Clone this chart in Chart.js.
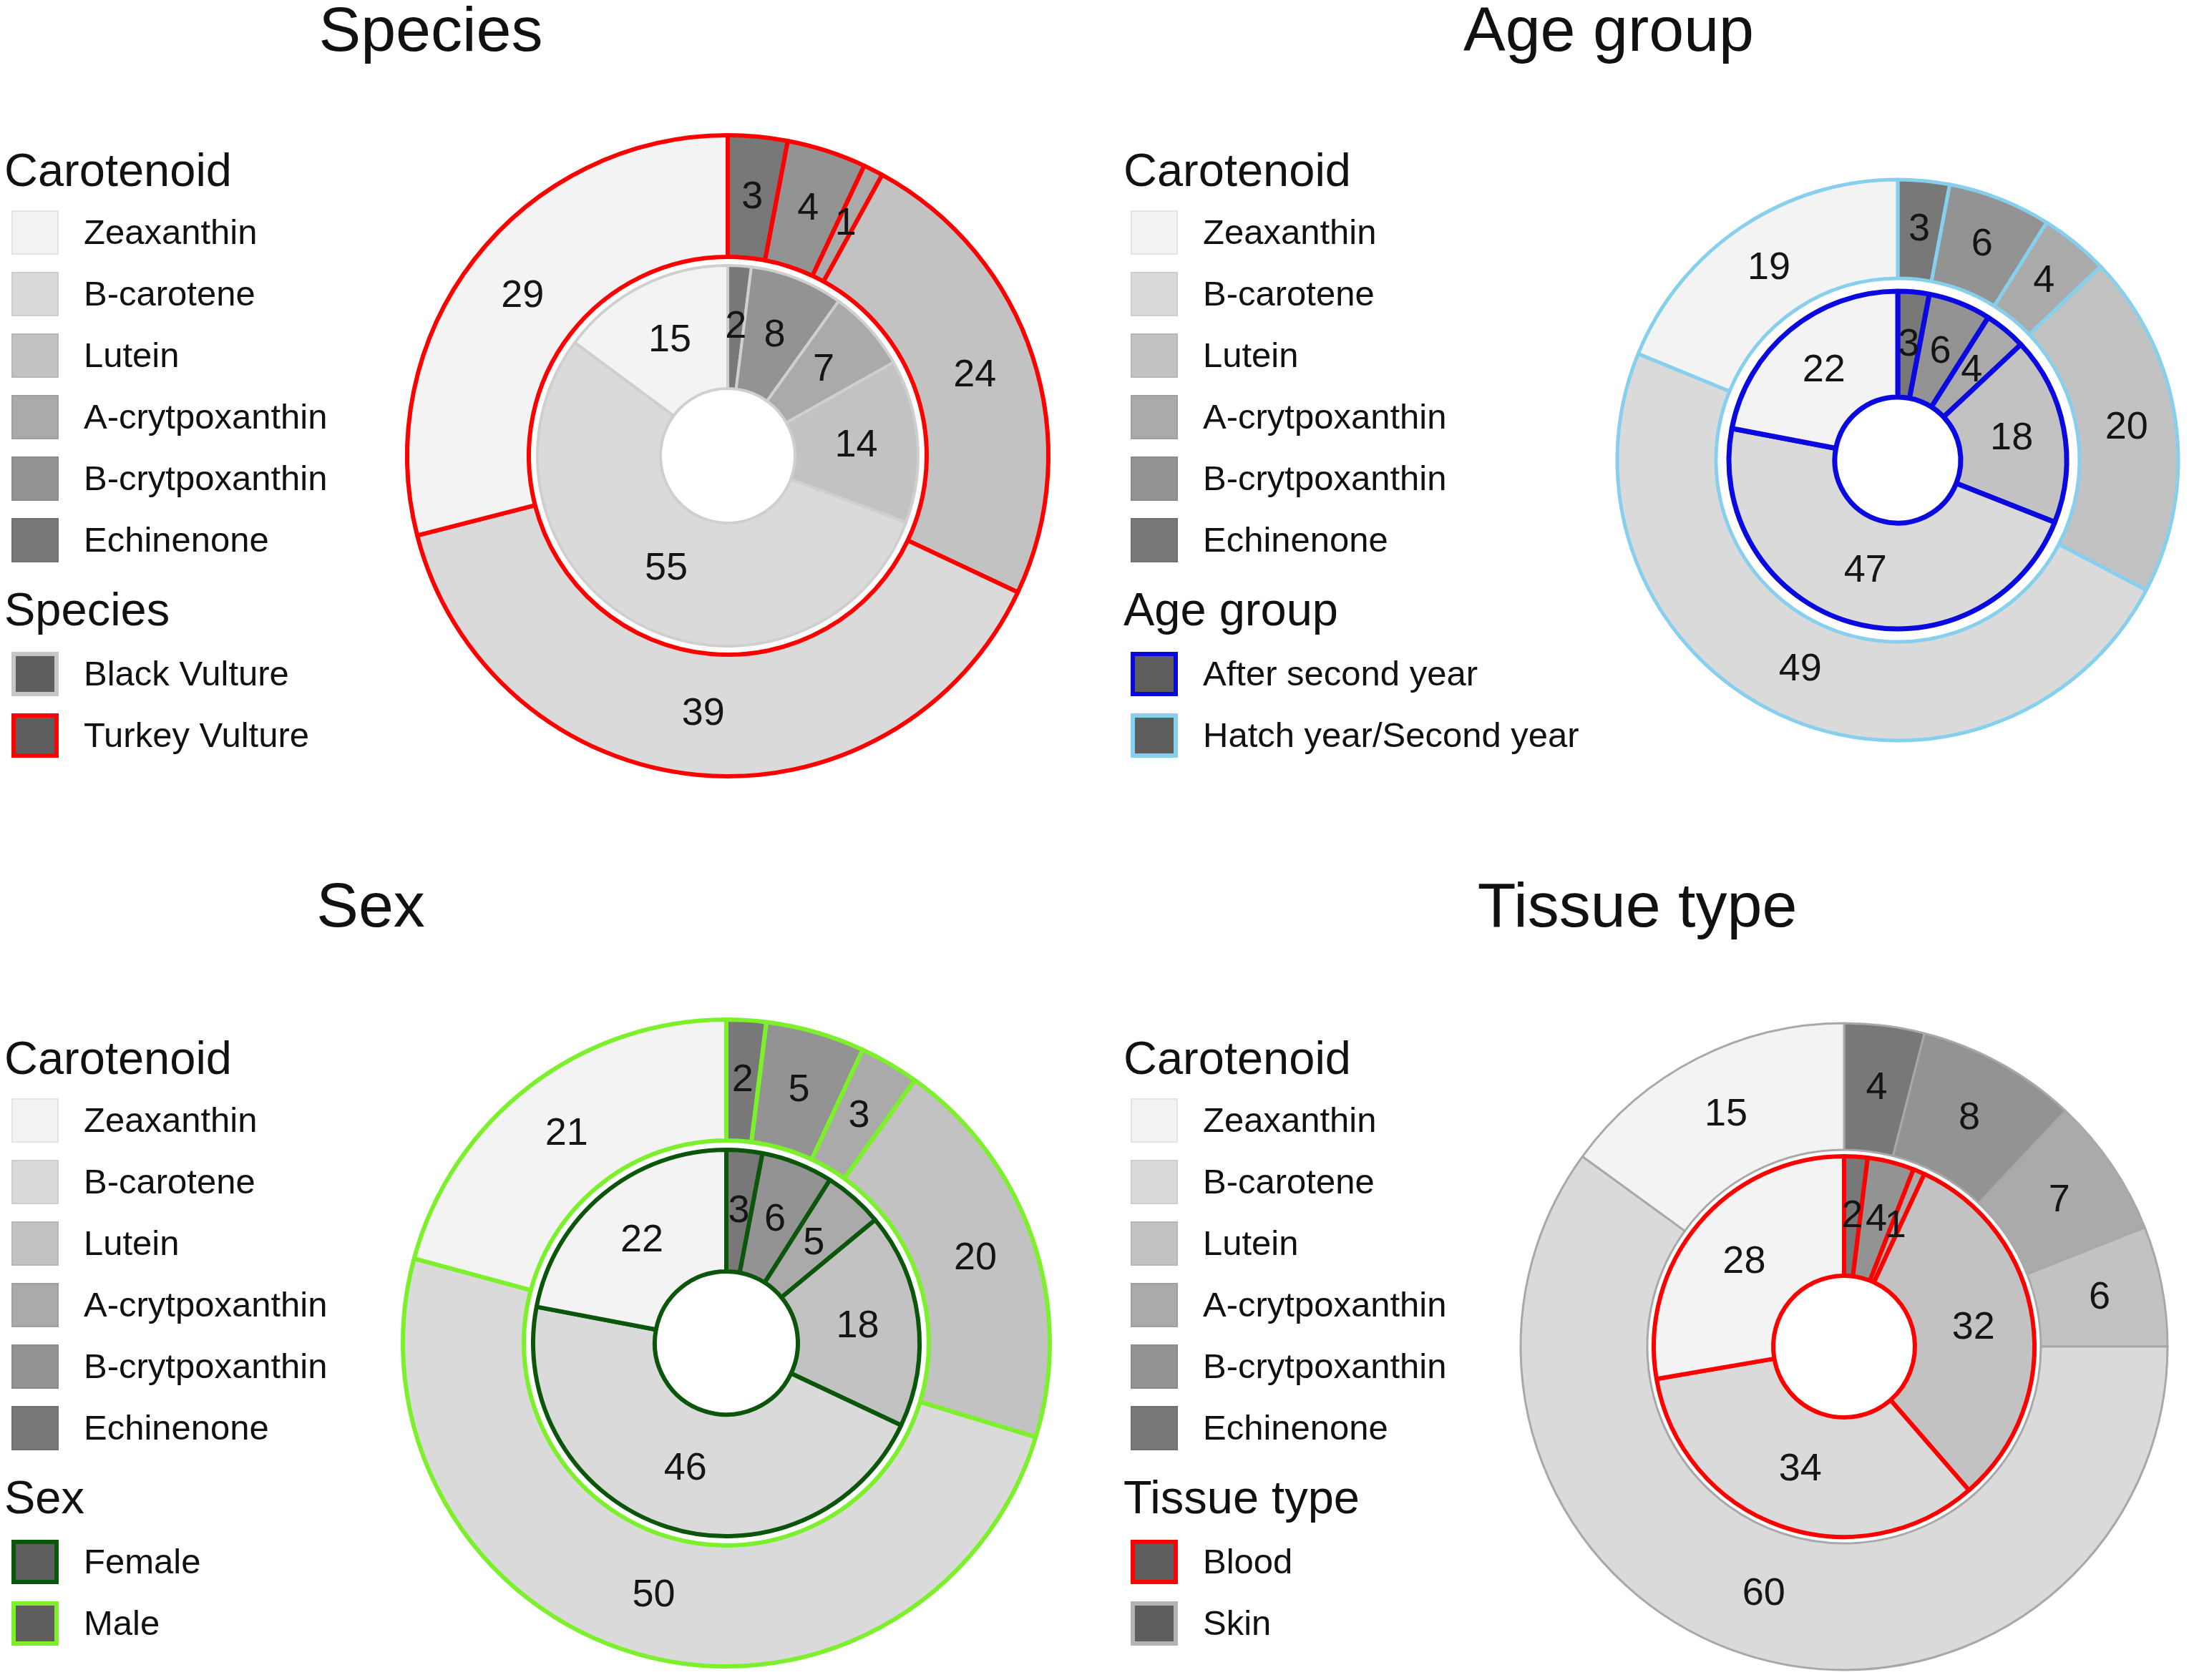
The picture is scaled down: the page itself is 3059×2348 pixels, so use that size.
<!DOCTYPE html>
<html>
<head>
<meta charset="utf-8">
<script src="https://cdn.jsdelivr.net/npm/chart.js@4.4.1/dist/chart.umd.min.js"></script>
<style>
  body { margin: 0; background: #fff; font-family: "Liberation Sans", Arial, sans-serif; color: #111; }
  #page { position: relative; width: 3059px; height: 2348px; overflow: hidden; background: #fff; }
  .abs { position: absolute; white-space: nowrap; line-height: 1; }
  .title { font-size: 88px; transform: translateX(-50%); }
  .head { font-size: 65px; }
  .item { font-size: 49px; }
  .sw { position: absolute; box-sizing: border-box; }
  canvas { position: absolute; }
</style>
</head>
<body>
<div id="page"></div>
<script>
// carotenoids in legend order, slices run clockwise from 12 o'clock in reverse order
const carotenoids = ["Zeaxanthin", "B-carotene", "Lutein", "A-crytpoxanthin", "B-crytpoxanthin", "Echinenone"];
const greys = ["#f3f3f3", "#dadada", "#c2c2c2", "#aaaaaa", "#939393", "#787878"];
const sliceOrder = carotenoids.slice().reverse();
const sliceGreys = greys.slice().reverse();

// values per ring, in slice order: Echinenone, B-cryt, A-cryt, Lutein, B-carotene, Zeaxanthin
const turkeyVulture = [3, 4, 1, 24, 39, 29];
const blackVulture = [2, 8, 7, 14, 55, 15];
const hatchSecondYear = [3, 6, 4, 20, 49, 19];
const afterSecondYear = [3, 6, 4, 18, 47, 22];
const male = [2, 5, 3, 20, 50, 21];
const female = [3, 6, 5, 18, 46, 22];
const skin = [4, 8, 7, 6, 60, 15];
const blood = [2, 4, 1, 32, 34, 28];

const panels = [
  { title: "Species", titleX: 602, ox: 0, oy: 0,
    groups: ["Black Vulture", "Turkey Vulture"], groupBorders: ["#c6c6c6", "#ff0000"],
    outer: turkeyVulture, inner: blackVulture,
    outerBorder: "#ff0000", innerBorder: "#cfcfcf", outerBW: 6, innerBW: 4,
    cx: 1017, cy: 637, R: 448, outerIn: 278, innerOut: 266, hole: 94 },
  { title: "Age group", titleX: 2248, ox: 1564, oy: 0,
    groups: ["After second year", "Hatch year/Second year"], groupBorders: ["#0a0ad8", "#86d0ee"],
    outer: hatchSecondYear, inner: afterSecondYear,
    outerBorder: "#86d0ee", innerBorder: "#0a0ae0", outerBW: 5, innerBW: 7,
    cx: 2652, cy: 643, R: 392, outerIn: 254, innerOut: 236, hole: 88 },
  { title: "Sex", titleX: 518, ox: 0, oy: 1241,
    groups: ["Female", "Male"], groupBorders: ["#0b560b", "#7cf02a"],
    outer: male, inner: female,
    outerBorder: "#7cf02a", innerBorder: "#0b560b", outerBW: 6, innerBW: 6,
    cx: 1015, cy: 1877, R: 452, outerIn: 283, innerOut: 270, hole: 100 },
  { title: "Tissue type", titleX: 2288, ox: 1564, oy: 1241,
    groups: ["Blood", "Skin"], groupBorders: ["#ff0000", "#b4b4b4"],
    outer: skin, inner: blood,
    outerBorder: "#a8a8a8", innerBorder: "#ff0000", outerBW: 3, innerBW: 6,
    cx: 2577, cy: 1882, R: 452, outerIn: 275, innerOut: 266, hole: 99 }
];

const page = document.getElementById("page");

function addText(cls, text, x, top) {
  const d = document.createElement("div");
  d.className = "abs " + cls;
  d.textContent = text;
  d.style.left = x + "px";
  d.style.top = top + "px";
  page.appendChild(d);
}

function addSwatch(x, y, fill, border, bw) {
  const s = document.createElement("div");
  s.className = "sw";
  s.style.left = x + "px";
  s.style.top = y + "px";
  s.style.width = "66px";
  s.style.height = "62px";
  s.style.background = fill;
  s.style.border = bw + "px solid " + border;
  page.appendChild(s);
}

function buildLegend(p) {
  const top = p.oy;
  addText("title", p.title, p.titleX, top + (p.oy ? -20 : -3));
  addText("head", "Carotenoid", p.ox + 6, top + 205);
  carotenoids.forEach((name, i) => {
    const cy = top + 325 + i * 86;
    addSwatch(p.ox + 16, cy - 31, greys[i], "rgba(0,0,0,0.06)", 2);
    addText("item", name, p.ox + 117, cy - 25);
  });
  addText("head", p.title, p.ox + 6, top + 819);
  p.groups.forEach((name, i) => {
    const cy = top + 942 + i * 86;
    addSwatch(p.ox + 16, cy - 31, "#5e5e5e", p.groupBorders[i], 6);
    addText("item", name, p.ox + 117, cy - 25);
  });
}

const sliceLabels = {
  id: "sliceLabels",
  afterDatasetsDraw(chart) {
    const { ctx } = chart;
    ctx.save();
    ctx.font = '54px "Liberation Sans", Arial, sans-serif';
    ctx.fillStyle = "#151515";
    ctx.textAlign = "center";
    ctx.textBaseline = "middle";
    chart.data.datasets.forEach((ds, i) => {
      if (!ds.showLabels) return;
      chart.getDatasetMeta(i).data.forEach((arc, j) => {
        const pt = arc.getCenterPoint();
        ctx.fillText(String(ds.data[j]), pt.x, pt.y);
      });
    });
    ctx.restore();
  }
};

function buildChart(p) {
  const size = 2 * p.R + 40;
  const cv = document.createElement("canvas");
  cv.width = size;
  cv.height = size;
  cv.style.left = (p.cx - size / 2) + "px";
  cv.style.top = (p.cy - size / 2) + "px";
  page.appendChild(cv);

  new Chart(cv.getContext("2d"), {
    type: "doughnut",
    data: {
      labels: sliceOrder,
      datasets: [
        { data: p.outer, backgroundColor: sliceGreys, borderColor: p.outerBorder,
          borderWidth: p.outerBW, weight: p.R - p.outerIn, showLabels: true },
        { data: [1], backgroundColor: "rgba(0,0,0,0)", borderWidth: 0,
          weight: p.outerIn - p.innerOut },
        { data: p.inner, backgroundColor: sliceGreys, borderColor: p.innerBorder,
          borderWidth: p.innerBW, weight: p.innerOut - p.hole, showLabels: true }
      ]
    },
    options: {
      responsive: false,
      animation: false,
      devicePixelRatio: 1,
      radius: p.R,
      cutout: (p.hole / p.R * 100) + "%",
      layout: { padding: 0 },
      events: [],
      plugins: { legend: { display: false }, tooltip: { enabled: false } }
    },
    plugins: [sliceLabels]
  });
}

panels.forEach(p => { buildLegend(p); buildChart(p); });
</script>
</body>
</html>
